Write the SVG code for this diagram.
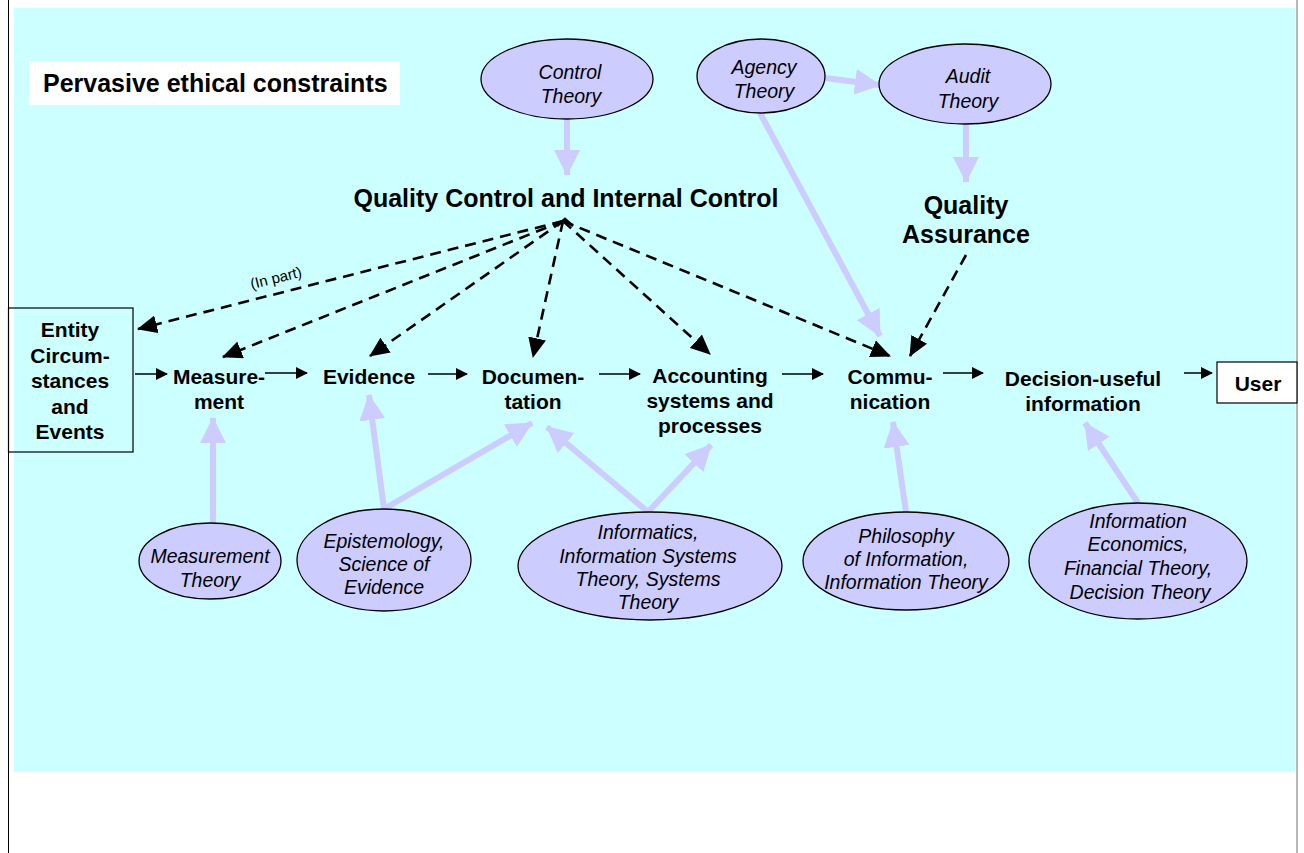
<svg xmlns="http://www.w3.org/2000/svg" width="1304" height="853" viewBox="0 0 1304 853">
  <style>
    .theory { fill: #CCCCFF; stroke: #000; stroke-width: 1.3; }
    .ttext { font-family: "Liberation Sans", Arial, sans-serif; font-style: italic; font-size: 19.5px; fill: #000; text-anchor: middle; }
    .stage { font-family: "Liberation Sans", Arial, sans-serif; font-weight: bold; font-size: 21px; fill: #000; text-anchor: middle; }
    .big { font-family: "Liberation Sans", Arial, sans-serif; font-weight: bold; font-size: 25px; fill: #000; text-anchor: middle; }
    .influence { stroke: #CCCCFF; stroke-width: 6; fill: none; marker-end: url(#lightHead); }
    .control { stroke: #000; stroke-width: 2.6; stroke-dasharray: 11 7; fill: none; marker-end: url(#dashHead); }
    .flow { stroke: #000; stroke-width: 1.5; fill: none; marker-end: url(#flowHead); }
  </style>
  <defs>
    <marker id="lightHead" markerUnits="userSpaceOnUse" markerWidth="26" markerHeight="26" refX="25" refY="13" orient="auto">
      <path d="M0,0 L26,13 L0,26 Z" fill="#CCCCFF"/>
    </marker>
    <marker id="dashHead" markerUnits="userSpaceOnUse" markerWidth="20" markerHeight="18" refX="19" refY="9" orient="auto">
      <path d="M0,0 L20,9 L0,18 Z" fill="#000"/>
    </marker>
    <marker id="flowHead" markerUnits="userSpaceOnUse" markerWidth="12" markerHeight="12" refX="11" refY="6" orient="auto">
      <path d="M0,0 L12,6 L0,12 Z" fill="#000"/>
    </marker>
  </defs>

  <!-- page frame and background -->
  <rect x="0" y="0" width="1304" height="853" fill="#FFFFFF"/>
  <line x1="8.5" y1="0" x2="8.5" y2="853" stroke="#000" stroke-width="1"/>
  <line x1="1297" y1="0" x2="1297" y2="853" stroke="#888" stroke-width="1.2"/>
  <rect x="14" y="8" width="1281" height="764" fill="#CCFFFF"/>

  <g id="ethics">
    <rect x="29" y="61" width="371" height="44" fill="#FFFFFF"/>
    <text x="43" y="92" font-family="'Liberation Sans', Arial, sans-serif" font-weight="bold" font-size="25" fill="#000">Pervasive ethical constraints</text>
  </g>

  <!-- connectors -->
  <g id="connectors">
    <!-- theory influences -->
    <line class="influence" x1="567" y1="119" x2="567" y2="175"/>
    <line class="influence" x1="825" y1="78" x2="880" y2="85"/>
    <line class="influence" x1="966" y1="124" x2="966" y2="182"/>
    <line class="influence" x1="760" y1="113" x2="880" y2="336"/>
    <line class="influence" x1="213" y1="523" x2="213" y2="418"/>
    <line class="influence" x1="384" y1="509" x2="369" y2="395"/>
    <line class="influence" x1="384" y1="509" x2="532" y2="423"/>
    <line class="influence" x1="648" y1="512" x2="547" y2="427"/>
    <line class="influence" x1="648" y1="512" x2="711" y2="445"/>
    <line class="influence" x1="906" y1="512" x2="893" y2="422"/>
    <line class="influence" x1="1138" y1="503" x2="1085" y2="423"/>

    <!-- quality control reach -->
    <path d="M557,226 L565,219 L573,226" stroke="#000" stroke-width="2.6" fill="none"/>
    <line class="control" x1="563" y1="221" x2="138" y2="329"/>
    <line class="control" x1="563" y1="221" x2="223" y2="357"/>
    <line class="control" x1="563" y1="221" x2="370" y2="356"/>
    <line class="control" x1="563" y1="221" x2="533" y2="357"/>
    <line class="control" x1="563" y1="221" x2="710" y2="354"/>
    <line class="control" x1="563" y1="221" x2="890" y2="356"/>
    <line class="control" x1="966" y1="255" x2="910" y2="356"/>
    <text x="276" y="283" transform="rotate(-14 276 278)" font-family="'Liberation Sans', Arial, sans-serif" font-size="15" fill="#000" text-anchor="middle">(In part)</text>

    <!-- main flow -->
    <line class="flow" x1="135" y1="374" x2="167" y2="374"/>
    <line class="flow" x1="265" y1="373" x2="307" y2="373"/>
    <line class="flow" x1="428" y1="374" x2="467" y2="374"/>
    <line class="flow" x1="599" y1="374" x2="640" y2="374"/>
    <line class="flow" x1="782" y1="374" x2="823" y2="374"/>
    <line class="flow" x1="943" y1="373" x2="983" y2="373"/>
    <line class="flow" x1="1184" y1="373" x2="1212" y2="373"/>
  </g>

  <!-- theory nodes -->
  <g id="control-theory">
    <ellipse class="theory" cx="567" cy="79" rx="86" ry="40"/>
    <text class="ttext" x="570" y="79">Control</text>
    <text class="ttext" x="571" y="103">Theory</text>
  </g>
  <g id="agency-theory">
    <ellipse class="theory" cx="761" cy="76" rx="64" ry="37"/>
    <text class="ttext" x="764" y="74">Agency</text>
    <text class="ttext" x="764" y="98">Theory</text>
  </g>
  <g id="audit-theory">
    <ellipse class="theory" cx="965" cy="84" rx="86" ry="40"/>
    <text class="ttext" x="968" y="83">Audit</text>
    <text class="ttext" x="968" y="108">Theory</text>
  </g>
  <g id="measurement-theory">
    <ellipse class="theory" cx="210" cy="561" rx="71" ry="38"/>
    <text class="ttext" x="210" y="563">Measurement</text>
    <text class="ttext" x="210" y="587">Theory</text>
  </g>
  <g id="epistemology">
    <ellipse class="theory" cx="384" cy="560" rx="87" ry="51"/>
    <text class="ttext" x="384" y="548">Epistemology,</text>
    <text class="ttext" x="384" y="571">Science of</text>
    <text class="ttext" x="384" y="594">Evidence</text>
  </g>
  <g id="informatics">
    <ellipse class="theory" cx="650" cy="566" rx="132" ry="54"/>
    <text class="ttext" x="648" y="539">Informatics,</text>
    <text class="ttext" x="648" y="563">Information Systems</text>
    <text class="ttext" x="648" y="586">Theory, Systems</text>
    <text class="ttext" x="648" y="609">Theory</text>
  </g>
  <g id="philosophy">
    <ellipse class="theory" cx="906" cy="561" rx="103" ry="49"/>
    <text class="ttext" x="906" y="543">Philosophy</text>
    <text class="ttext" x="906" y="566">of Information,</text>
    <text class="ttext" x="906" y="589">Information Theory</text>
  </g>
  <g id="economics">
    <ellipse class="theory" cx="1138" cy="561" rx="109" ry="58"/>
    <text class="ttext" x="1138" y="528">Information</text>
    <text class="ttext" x="1138" y="551">Economics,</text>
    <text class="ttext" x="1138" y="575">Financial Theory,</text>
    <text class="ttext" x="1140" y="599">Decision Theory</text>
  </g>

  <!-- control headings -->
  <g id="quality-control">
    <text class="big" x="566" y="207">Quality Control and Internal Control</text>
  </g>
  <g id="quality-assurance">
    <text class="big" x="966" y="214">Quality</text>
    <text class="big" x="966" y="243">Assurance</text>
  </g>

  <!-- process stages -->
  <g id="entity">
    <rect x="8.5" y="308" width="124.5" height="144" fill="none" stroke="#000" stroke-width="1.2"/>
    <text class="stage" x="70" y="337">Entity</text>
    <text class="stage" x="70" y="363">Circum-</text>
    <text class="stage" x="70" y="388">stances</text>
    <text class="stage" x="70" y="414">and</text>
    <text class="stage" x="70" y="439">Events</text>
  </g>
  <g id="measurement">
    <text class="stage" x="219" y="384">Measure-</text>
    <text class="stage" x="219" y="409">ment</text>
  </g>
  <g id="evidence">
    <text class="stage" x="369" y="384">Evidence</text>
  </g>
  <g id="documentation">
    <text class="stage" x="533" y="384">Documen-</text>
    <text class="stage" x="533" y="409">tation</text>
  </g>
  <g id="accounting">
    <text class="stage" x="710" y="383">Accounting</text>
    <text class="stage" x="710" y="408">systems and</text>
    <text class="stage" x="710" y="433">processes</text>
  </g>
  <g id="communication">
    <text class="stage" x="890" y="384">Commu-</text>
    <text class="stage" x="890" y="409">nication</text>
  </g>
  <g id="decision-useful">
    <text class="stage" x="1083" y="386">Decision-useful</text>
    <text class="stage" x="1083" y="411">information</text>
  </g>
  <g id="user">
    <rect x="1217" y="362" width="80" height="41" fill="#FFFFFF" stroke="#000" stroke-width="1.2"/>
    <text class="stage" x="1258" y="391">User</text>
  </g>
</svg>
